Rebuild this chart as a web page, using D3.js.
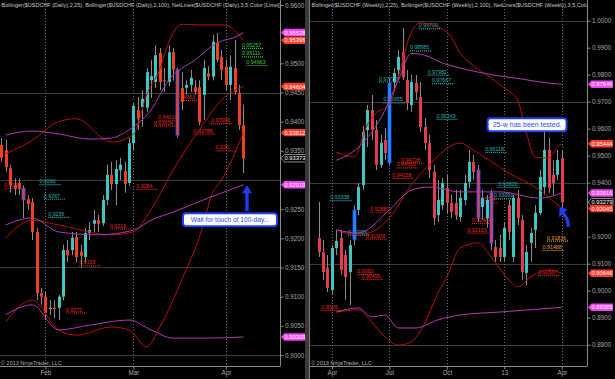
<!DOCTYPE html>
<html>
<head>
<meta charset="utf-8">
<script src="https://cdn.jsdelivr.net/npm/d3@7"></script>
<style>
  body { margin: 0; background: #000; }
  svg { display: block; font-family: "Liberation Sans", Arial, sans-serif; }
</style>
</head>
<body>
<svg id="chart" width="615" height="379"></svg>
<script>
// ---------------- Daily $USDCHF (left) ----------------
// date, open, high, low, close
var dailyBars = [
  ["2013-01-18",.9360,.9372,.9331,.9338], ["2013-01-21",.9351,.9369,.9314,.9322],
  ["2013-01-22",.9320,.9326,.9278,.9291], ["2013-01-23",.9291,.9303,.9274,.9286],
  ["2013-01-24",.9295,.9303,.9274,.9286], ["2013-01-25",.9286,.9291,.9235,.9266],
  ["2013-01-28",.9267,.9274,.9249,.9259], ["2013-01-29",.9262,.9269,.9197,.9211],
  ["2013-01-30",.9211,.9218,.9094,.9106], ["2013-01-31",.9106,.9115,.9086,.9100],
  ["2013-02-01",.9100,.9108,.9060,.9072], ["2013-02-04",.9079,.9094,.9069,.9081],
  ["2013-02-05",.9081,.9094,.9063,.9079], ["2013-02-06",.9081,.9103,.9060,.9100],
  ["2013-02-07",.9100,.9189,.9094,.9180], ["2013-02-08",.9180,.9197,.9159,.9171],
  ["2013-02-11",.9180,.9211,.9171,.9201], ["2013-02-12",.9202,.9211,.9159,.9168],
  ["2013-02-13",.9177,.9189,.9149,.9170], ["2013-02-14",.9168,.9218,.9159,.9209],
  ["2013-02-15",.9209,.9228,.9197,.9214], ["2013-02-18",.9225,.9249,.9211,.9231],
  ["2013-02-19",.9231,.9240,.9211,.9225], ["2013-02-20",.9226,.9274,.9221,.9266],
  ["2013-02-21",.9266,.9326,.9257,.9309], ["2013-02-22",.9309,.9331,.9283,.9293],
  ["2013-02-25",.9293,.9334,.9257,.9319], ["2013-02-26",.9317,.9338,.9300,.9326],
  ["2013-02-27",.9315,.9331,.9278,.9293], ["2013-02-28",.9295,.9372,.9290,.9363],
  ["2013-03-01",.9363,.9432,.9351,.9427], ["2013-03-04",.9420,.9442,.9386,.9405],
  ["2013-03-05",.9425,.9454,.9391,.9439], ["2013-03-06",.9424,.9492,.9417,.9485],
  ["2013-03-07",.9471,.9506,.9441,.9478], ["2013-03-08",.9468,.9531,.9458,.9514],
  ["2013-03-11",.9518,.9526,.9454,.9468], ["2013-03-12",.9471,.9492,.9451,.9470],
  ["2013-03-13",.9468,.9531,.9461,.9519], ["2013-03-14",.9519,.9526,.9471,.9489],
  ["2013-03-15",.9489,.9492,.9372,.9377], ["2013-03-18",.9458,.9485,.9420,.9434],
  ["2013-03-19",.9458,.9471,.9446,.9463], ["2013-03-20",.9463,.9489,.9451,.9475],
  ["2013-03-21",.9459,.9471,.9446,.9451], ["2013-03-22",.9459,.9471,.9394,.9399],
  ["2013-03-25",.9446,.9506,.9403,.9492], ["2013-03-26",.9483,.9495,.9471,.9477],
  ["2013-03-27",.9477,.9549,.9471,.9537], ["2013-03-28",.9535,.9552,.9502,.9506],
  ["2013-03-29",.9511,.9523,.9471,.9489], ["2013-04-01",.9494,.9506,.9454,.9463],
  ["2013-04-02",.9463,.9514,.9437,.9494], ["2013-04-03",.9492,.9540,.9446,.9451],
  ["2013-04-04",.9449,.9463,.9386,.9394], ["2013-04-05",.9394,.9429,.9312,.9337]
];
var dailyMonths = [["2013-02-01","Feb"], ["2013-03-01","Mar"], ["2013-04-01","Apr"]];
var dailyHighlight = ["2013-01-25", "2013-03-15"];

// Bollinger bands, [bar index, value]
var dailyBB25Upper = [[1,.9345],[7,.9368],[13,.9400],[17,.9405],[25,.9365],[30,.9378],[33,.9446],[36,.9490],[38,.9535],[41,.9567],[45,.9566],[50,.9566],[52,.9562],[55,.95396]];
var dailyBB25Mid   = [[1,.9201],[7,.9231],[13,.9223],[25,.9206],[30,.9211],[34,.9249],[39,.9317],[45,.9386],[50,.9437],[55,.94604]];
var dailyBB25Lower = [[1,.9057],[7,.9094],[13,.9043],[17,.9034],[25,.9048],[29,.9043],[33,.9014],[36,.9048],[41,.9129],[45,.9202],[48,.9278],[50,.9300],[55,.93812]];
var dailyBB100Upper = [[1,.9377],[7,.9384],[13,.9379],[20,.9370],[25,.9372],[29,.9386],[34,.9420],[38,.9471],[44,.9506],[49,.9535],[54,.9548],[55,.95528]];
var dailyBB100Mid   = [[1,.9223],[7,.9235],[13,.9211],[22,.9206],[30,.9214],[34,.9231],[39,.9245],[47,.9269],[55,.92919]];
var dailyBB100Lower = [[1,.9069],[7,.9086],[13,.9043],[20,.9051],[29,.9060],[34,.9043],[39,.9029],[47,.9029],[55,.90309]];

// NetLines labels: bar index, level, colour
var dailyNetLines = [
  [1,"0.9285","red"], [9,"0.9292","cyan"], [10,"0.9267","cyan"], [11,"0.9236","cyan"],
  [15,"0.9072","red"], [18,"0.9153","red"], [25,"0.9216","red"], [31,"0.9284","red"],
  [35,"0.93924","red"], [36,"0.94016","red"], [40,"0.94363","red"], [44,"0.93786","red"],
  [48,"0.93966","red"], [49,"0.935","red"],
  [55,"0.95257","lime"], [55,"0.95111","lime"], [56,"0.94963","lime"]
];
var dailyMarkers = [["0.95528","magenta"],["0.95396","red"],["0.94604","red"],["0.93812","red"],
                    ["0.93373","last"],["0.92919","magenta"],["0.90309","magenta"]];

// ---------------- Weekly $USDCHF (right) ----------------
var weeklyBars = [
  ["2012-03-12",.9195,.9329,.9125,.9143], ["2012-03-19",.9143,.9188,.9040,.9069],
  ["2012-03-26",.9084,.9132,.8995,.9010], ["2012-04-02",.9003,.9169,.8984,.9158],
  ["2012-04-09",.9158,.9225,.9132,.9184], ["2012-04-16",.9195,.9225,.9058,.9077],
  ["2012-04-23",.9132,.9151,.8966,.9051], ["2012-04-30",.9069,.9188,.8947,.9169],
  ["2012-05-07",.9188,.9317,.9169,.9299], ["2012-05-14",.9299,.9399,.9280,.9384],
  ["2012-05-21",.9391,.9610,.9373,.9588], ["2012-05-28",.9595,.9688,.9532,.9669],
  ["2012-06-04",.9669,.9725,.9558,.9595], ["2012-06-11",.9595,.9632,.9447,.9466],
  ["2012-06-18",.9466,.9577,.9455,.9547], ["2012-06-25",.9558,.9603,.9484,.9510],
  ["2012-07-02",.9473,.9788,.9466,.9769], ["2012-07-09",.9773,.9825,.9743,.9806],
  ["2012-07-16",.9817,.9892,.9780,.9866], ["2012-07-23",.9884,.9973,.9780,.9791],
  ["2012-07-30",.9780,.9817,.9669,.9695], ["2012-08-06",.9688,.9799,.9662,.9773],
  ["2012-08-13",.9769,.9799,.9706,.9736], ["2012-08-20",.9717,.9773,.9588,.9606],
  ["2012-08-27",.9606,.9640,.9521,.9547], ["2012-09-03",.9547,.9577,.9417,.9447],
  ["2012-09-10",.9440,.9466,.9243,.9269], ["2012-09-17",.9280,.9410,.9255,.9336],
  ["2012-09-24",.9317,.9418,.9299,.9399], ["2012-10-01",.9380,.9429,.9288,.9325],
  ["2012-10-08",.9325,.9355,.9269,.9292], ["2012-10-15",.9325,.9373,.9262,.9280],
  ["2012-10-22",.9273,.9373,.9255,.9344], ["2012-10-29",.9336,.9429,.9317,.9399],
  ["2012-11-05",.9403,.9521,.9380,.9477], ["2012-11-12",.9477,.9503,.9410,.9440],
  ["2012-11-19",.9447,.9466,.9255,.9269], ["2012-11-26",.9310,.9373,.9262,.9343],
  ["2012-12-03",.9269,.9355,.9233,.9336], ["2012-12-10",.9362,.9373,.9151,.9176],
  ["2012-12-17",.9162,.9188,.9107,.9125], ["2012-12-24",.9158,.9207,.9107,.9125],
  ["2012-12-31",.9125,.9255,.9107,.9233], ["2013-01-07",.9317,.9336,.9188,.9218],
  ["2013-01-14",.9125,.9355,.9107,.9344], ["2013-01-21",.9344,.9373,.9243,.9269],
  ["2013-01-28",.9262,.9280,.9040,.9069], ["2013-02-04",.9066,.9169,.9021,.9143],
  ["2013-02-11",.9177,.9233,.9107,.9214], ["2013-02-18",.9225,.9317,.9158,.9288],
  ["2013-02-25",.9288,.9447,.9280,.9421], ["2013-03-04",.9384,.9595,.9355,.9521],
  ["2013-03-11",.9521,.9566,.9362,.9380], ["2013-03-18",.9429,.9484,.9355,.9399],
  ["2013-03-25",.9429,.9521,.9410,.9484], ["2013-04-01",.9491,.9521,.9291,.9328]
];
var weeklyMonths = [["2012-04-02","Apr"], ["2012-07-02","Jul"], ["2012-10-01","Oct"], ["2012-12-31","13"], ["2013-04-01","Apr"]];
var weeklyHighlight = ["2012-05-07", "2012-07-02", "2012-11-19", "2012-12-10"];

var weeklyBB25Upper = [[4,.9514],[8,.9495],[11,.9614],[13,.9658],[16,.9688],[18,.9791],[21,.9958],[23,.9992],[27,.9977],[30,.9940],[32,.9880],[34,.9847],[39,.9788],[42,.9751],[45,.9706],[47,.9584],[49,.9495],[52,.9492],[54,.9532],[55,.95444]];
var weeklyBB25Mid   = [[4,.9225],[9,.9206],[16,.9269],[21,.9392],[25,.9466],[32,.9547],[35,.9521],[43,.9436],[50,.9373],[55,.93045]];
var weeklyBB25Lower = [[4,.8921],[9,.8929],[12,.8884],[15,.8829],[18,.8799],[21,.8810],[24,.8880],[27,.8992],[29,.9051],[32,.9158],[36,.9177],[39,.9125],[43,.9040],[45,.9014],[48,.9051],[52,.9077],[55,.90646]];
var weeklyBB100Upper = [[4,.9483],[9,.9531],[15,.9668],[18,.9779],[21,.9879],[24,.9872],[28,.9843],[32,.9825],[36,.9810],[41,.9795],[46,.9784],[50,.9773],[55,.97646]];
var weeklyBB100Mid   = [[4,.9225],[9,.9214],[16,.9299],[21,.9373],[25,.9384],[32,.9366],[41,.9366],[50,.9343],[55,.93616]];
var weeklyBB100Lower = [[4,.8921],[9,.8936],[12,.8903],[15,.8910],[18,.8862],[22,.8862],[27,.8892],[32,.8910],[41,.8921],[50,.8932],[55,.89385]];

var weeklyNetLines = [
  [3,"0.93338","cyan"], [7,"0.92059","cyan"], [14,"0.97729","cyan"], [15,"0.96955","cyan"],
  [21,"0.98885","cyan"], [23,"0.99709","cyan"], [25,"0.97982","cyan"], [26,"0.97667","cyan"],
  [27,"0.96343","cyan"], [38,"0.95118","cyan"], [40,"0.93399","cyan"], [41,"0.93822","cyan"],
  [1,"0.8926","red"], [9,"0.9060","red"], [10,"0.90416","red"], [11,"0.91909","red"],
  [12,"0.92887","red"], [17,"0.94158","red"], [18,"0.94552","red"], [19,"0.94728","red"],
  [34,"0.92133","red"], [35,"0.92488","red"], [36,"0.93254","red"], [50,"0.90567","red"],
  [51,"0.91488","orange"], [52,"0.91836","orange"]
];
var weeklyMarkers = [["0.97646","magenta"],["0.95444","red"],["0.93616","magenta"],["0.93279","last"],
                     ["0.93045","red"],["0.90646","red"],["0.89385","magenta"]];

// ---------------- drawing ----------------
var svg = d3.select("#chart");
svg.append("rect").attr("width", 615).attr("height", 379).attr("fill", "#000");

var netColor = { red: "#e8261c", cyan: "#20b4b4", lime: "#30d030", orange: "#e89c12" };
var markColor = { red: "#ff3b2b", magenta: "#f044f0", last: "#000" };
var BOTTOM = 366;

function drawPanel(p) {
  var dates = p.bars.map(function(d) { return d[0]; });
  var x = d3.scaleLinear().domain(p.xDomain).range([p.left, p.right]);
  var y = d3.scaleLinear().domain(p.yDomain).range(p.yRange);

  svg.append("clipPath").attr("id", "clip-" + p.name)
    .append("rect").attr("x", p.left).attr("y", 0)
    .attr("width", p.right - p.left).attr("height", BOTTOM);
  var g = svg.append("g").attr("clip-path", "url(#clip-" + p.name + ")");

  // grid
  g.selectAll(".hgrid").data(p.grid).join("line")
    .attr("x1", p.left).attr("x2", p.right)
    .attr("y1", function(d) { return Math.round(y(d)) + 0.5; })
    .attr("y2", function(d) { return Math.round(y(d)) + 0.5; })
    .attr("stroke", "#3c3c3c");
  var monthIdx = p.months.map(function(m) { return dates.indexOf(m[0]); });
  g.selectAll(".vgrid").data(monthIdx).join("line")
    .attr("x1", function(d) { return Math.round(x(d)) + 0.5; })
    .attr("x2", function(d) { return Math.round(x(d)) + 0.5; })
    .attr("y1", 0).attr("y2", BOTTOM)
    .attr("stroke", "#6a6a6a").attr("stroke-dasharray", "1,2");

  // NetLines
  var nl = g.selectAll(".net").data(p.netLines).join("g");
  nl.append("line")
    .attr("x1", function(d) { return x(d[0]) - 1.5; })
    .attr("x2", function(d) { return x(d[0]) + 20; })
    .attr("y1", function(d) { return y(+d[1]); })
    .attr("y2", function(d) { return y(+d[1]); })
    .attr("stroke", function(d) { return netColor[d[2]]; })
    .attr("stroke-width", 1.2).attr("stroke-dasharray", "1,1");
  nl.append("text")
    .attr("x", function(d) { return x(d[0]) - 1.5; })
    .attr("y", function(d) { return y(+d[1]) - 1.5; })
    .attr("font-size", 5.3)
    .attr("fill", function(d) { return netColor[d[2]]; })
    .text(function(d) { return d[1]; });

  // candles
  var c = g.selectAll(".bar").data(p.bars).join("g");
  c.append("line")
    .attr("x1", function(d, i) { return Math.round(x(i)) + 0.5; })
    .attr("x2", function(d, i) { return Math.round(x(i)) + 0.5; })
    .attr("y1", function(d) { return y(d[2]); })
    .attr("y2", function(d) { return y(d[3]); })
    .attr("stroke", "#8c8c8c");
  c.append("rect")
    .attr("x", function(d, i) { return Math.round(x(i)) - 1; })
    .attr("width", 3)
    .attr("y", function(d) { return y(Math.max(d[1], d[4])); })
    .attr("height", function(d) { return Math.max(1, Math.abs(y(d[1]) - y(d[4]))); })
    .attr("fill", function(d) {
      var up = d[4] >= d[1];
      if (p.highlight.indexOf(d[0]) >= 0 && up) return "#1e90ff";
      return up ? "#3ec6c0" : p.downColor;
    })
    .attr("stroke", function(d) { return p.highlight.indexOf(d[0]) >= 0 ? "#2a55ff" : "none"; })
    .attr("stroke-width", 0.8);

  // Bollinger lines
  var line = d3.line()
    .x(function(d) { return x(d[0]); })
    .y(function(d) { return y(d[1]); })
    .curve(d3.curveMonotoneX);
  p.bands.forEach(function(b) {
    g.append("path").attr("d", line(b[0]))
      .attr("fill", "none").attr("stroke", b[1]).attr("stroke-width", 1);
  });

  // axes
  svg.append("line").attr("x1", p.right + 0.5).attr("x2", p.right + 0.5)
    .attr("y1", 0).attr("y2", BOTTOM).attr("stroke", "#8a8a8a");
  svg.append("line").attr("x1", p.left).attr("x2", p.right + 0.5)
    .attr("y1", BOTTOM + 0.5).attr("y2", BOTTOM + 0.5).attr("stroke", "#8a8a8a");

  // tick labels hidden where a price marker sits on top of them
  var markerYs = p.markers.map(function(m) { return y(+m[0]); });
  var ticks = p.ticks.filter(function(t) {
    return markerYs.every(function(my) { return Math.abs(my - y(t)) > 5.5; });
  });
  var ya = svg.append("g").attr("transform", "translate(" + (p.right + 0.5) + ",0)")
    .call(d3.axisRight(y).tickValues(ticks).tickFormat(d3.format(".4f")).tickSize(3).tickPadding(1.5));
  ya.select(".domain").remove();
  ya.selectAll("line").attr("stroke", "#8a8a8a");
  ya.selectAll("text").attr("fill", "#a8a8a8").attr("font-size", 6.3)
    .attr("font-family", "Liberation Sans, Arial, sans-serif");

  var xa = svg.append("g").attr("transform", "translate(0," + (BOTTOM + 0.5) + ")")
    .call(d3.axisBottom(x).tickValues(monthIdx)
      .tickFormat(function(d, k) { return p.months[k][1]; }).tickSize(3).tickPadding(1));
  xa.select(".domain").remove();
  xa.selectAll("line").attr("stroke", "#8a8a8a");
  xa.selectAll("text").attr("fill", "#a8a8a8").attr("font-size", 6.3)
    .attr("font-family", "Liberation Sans, Arial, sans-serif");

  // price markers on the axis
  var mk = svg.selectAll(".mk-" + p.name).data(p.markers).join("g");
  mk.append("path")
    .attr("d", function(d) {
      var yy = y(+d[0]), x0 = p.right + 1;
      return "M" + x0 + "," + yy + "L" + (x0 + 3.5) + "," + (yy - 3.7) + "H" + (x0 + 25) +
             "V" + (yy + 3.7) + "H" + (x0 + 3.5) + "Z";
    })
    .attr("fill", function(d) { return markColor[d[1]]; })
    .attr("stroke", function(d) { return d[1] === "last" ? "#c8c8c8" : "none"; })
    .attr("stroke-width", 0.7);
  mk.append("text")
    .attr("x", p.right + 4.5)
    .attr("y", function(d) { return y(+d[0]) + 2.1; })
    .attr("font-size", 5.8).attr("fill", "#fff")
    .text(function(d) { return d[0]; });

  // title and copyright
  svg.append("text").attr("x", p.left + 1.5).attr("y", 7)
    .attr("font-size", 5.5).attr("fill", "#c8c8c8")
    .attr("clip-path", "url(#clip-" + p.name + ")")
    .text(p.title);
  svg.append("text").attr("x", p.left + 1).attr("y", 364.5)
    .attr("font-size", 5.5).attr("fill", "#b0b0b0")
    .text("\u00a9 2013 NinjaTrader, LLC");

  return { x: x, y: y };
}

var left = drawPanel({
  name: "daily", bars: dailyBars, months: dailyMonths, highlight: dailyHighlight,
  left: 0, right: 280, xDomain: [-0.3, 63.3], yDomain: [0.90, 0.96], yRange: [355, 5],
  grid: [0.90, 0.915, 0.93, 0.945], ticks: d3.range(0.90, 0.96001, 0.005),
  downColor: "#f2401f", netLines: dailyNetLines, markers: dailyMarkers,
  bands: [[dailyBB25Upper, "#b3120e"], [dailyBB25Mid, "#b3120e"], [dailyBB25Lower, "#b3120e"],
          [dailyBB100Upper, "#b23ab2"], [dailyBB100Mid, "#b23ab2"], [dailyBB100Lower, "#b23ab2"]],
  title: "Bollinger($USDCHF (Daily),2,25), Bollinger($USDCHF (Daily),2,100), NetLines($USDCHF (Daily),3,5,Color [Lime])"
});

var right = drawPanel({
  name: "weekly", bars: weeklyBars, months: weeklyMonths, highlight: weeklyHighlight,
  left: 310, right: 587, xDomain: [-1.95, 60.7], yDomain: [0.88, 1.00], yRange: [344.7, 20.7],
  grid: [0.88, 0.91, 0.94, 0.97, 1.00], ticks: d3.range(0.88, 1.00001, 0.01),
  downColor: "#e43c4e", netLines: weeklyNetLines, markers: weeklyMarkers,
  bands: [[weeklyBB25Upper, "#b3120e"], [weeklyBB25Mid, "#b3120e"], [weeklyBB25Lower, "#b3120e"],
          [weeklyBB100Upper, "#b23ab2"], [weeklyBB100Mid, "#b23ab2"], [weeklyBB100Lower, "#b23ab2"]],
  title: "Bollinger($USDCHF (Weekly),2,25), Bollinger($USDCHF (Weekly),2,100), NetLines($USDCHF (Weekly),3,5,Color [Lime])"
});

// divider between the two charts
svg.append("rect").attr("x", 305).attr("y", 0).attr("width", 4).attr("height", 379).attr("fill", "#3a3a3a");
svg.append("line").attr("x1", 309.5).attr("x2", 309.5).attr("y1", 0).attr("y2", 379).attr("stroke", "#7a7a7a");

// annotations
var BLUE = "#1d3df2";
function callout(bx, by, bw, label, fs) {
  var a = svg.append("g");
  a.append("rect").attr("x", bx).attr("y", by).attr("width", bw).attr("height", 13)
    .attr("rx", 3).attr("fill", "#fff").attr("stroke", BLUE).attr("stroke-width", 2);
  a.append("text").attr("x", bx + bw / 2).attr("y", by + 9.2).attr("text-anchor", "middle")
    .attr("font-size", fs).attr("fill", "#2a48ff").text(label);
}
// daily: straight arrow pointing up at the 100-day middle band
(function() {
  var tx = left.x(55.8), ty = left.y(0.9291);
  svg.append("path")
    .attr("d", "M" + tx + "," + ty + "l-5,8h3.3v18h3.4v-18h3.3z")
    .attr("fill", BLUE);
  callout(tx - 64, ty + 28, 94, "Wait for touch of 100-day...", 6.6);
})();
// weekly: bent arrow pointing at the 25-week lower band
(function() {
  var tx = right.x(54.5), ty = right.y(0.9309);
  svg.append("path")
    .attr("d", "M" + tx + "," + ty + "l8,2l-3,3q5,6 5.5,14l-3.2,1q-0.5,-8 -4.8,-13l-3,3z")
    .attr("fill", BLUE);
  callout(tx - 72, ty - 89, 79, "25-w has been tested.", 7);
})();
</script>
</body>
</html>
